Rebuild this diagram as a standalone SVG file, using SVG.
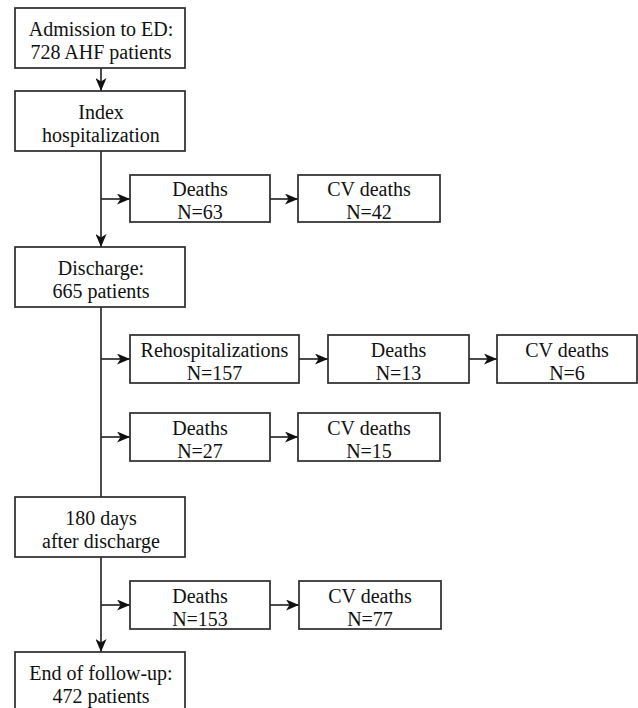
<svg xmlns="http://www.w3.org/2000/svg" width="638" height="708" viewBox="0 0 638 708">
<defs>
<style>
.box{fill:#fff;stroke:#2b2b2b;stroke-width:1.7}
.t{font-family:"Liberation Serif","Times New Roman",serif;font-size:20px;fill:#111;text-anchor:middle}
.c{fill:none;stroke:#2b2b2b;stroke-width:1.7}
</style>
<marker id="ah" viewBox="0 0 13 11" refX="13" refY="5.5" markerWidth="13" markerHeight="11" markerUnits="userSpaceOnUse" orient="auto">
<path d="M0,0 L13,5.5 L0,11 L3.5,5.5 Z" fill="#111"/>
</marker>
</defs>
<rect width="638" height="708" fill="#fff"/>
<g id="connectors">
<path class="c" d="M101,68 V91" marker-end="url(#ah)"/>
<path class="c" d="M101,151 V247" marker-end="url(#ah)"/>
<path class="c" d="M101,199 H130" marker-end="url(#ah)"/>
<path class="c" d="M270,199 H298" marker-end="url(#ah)"/>
<path class="c" d="M101,307 V497"/>
<path class="c" d="M101,359 H130" marker-end="url(#ah)"/>
<path class="c" d="M299,359 H328" marker-end="url(#ah)"/>
<path class="c" d="M469,359 H497" marker-end="url(#ah)"/>
<path class="c" d="M101,437 H130" marker-end="url(#ah)"/>
<path class="c" d="M270,437 H298" marker-end="url(#ah)"/>
<path class="c" d="M101,557 V652" marker-end="url(#ah)"/>
<path class="c" d="M101,605 H130" marker-end="url(#ah)"/>
<path class="c" d="M270,605 H299" marker-end="url(#ah)"/>
</g>
<g id="admission"><rect class="box" x="15" y="8" width="170" height="60"/><text class="t" x="101" y="36">Admission to ED:</text><text class="t" x="101" y="59">728 AHF patients</text></g>
<g id="index"><rect class="box" x="15" y="91" width="170" height="60"/><text class="t" x="101" y="119">Index</text><text class="t" x="101" y="142">hospitalization</text></g>
<g id="deaths1"><rect class="box" x="130" y="175" width="140" height="47"/><text class="t" x="200" y="196">Deaths</text><text class="t" x="200" y="219">N=63</text></g>
<g id="cv1"><rect class="box" x="298" y="175" width="142" height="47"/><text class="t" x="369" y="196">CV deaths</text><text class="t" x="369" y="219">N=42</text></g>
<g id="discharge"><rect class="box" x="15" y="247" width="170" height="60"/><text class="t" x="101" y="275">Discharge:</text><text class="t" x="101" y="298">665 patients</text></g>
<g id="rehosp"><rect class="box" x="130" y="335" width="169" height="48"/><text class="t" x="214.5" y="357">Rehospitalizations</text><text class="t" x="214.5" y="380">N=157</text></g>
<g id="deaths2"><rect class="box" x="328" y="335" width="141" height="48"/><text class="t" x="398.5" y="357">Deaths</text><text class="t" x="398.5" y="380">N=13</text></g>
<g id="cv2"><rect class="box" x="497" y="335" width="140" height="48"/><text class="t" x="567" y="357">CV deaths</text><text class="t" x="567" y="380">N=6</text></g>
<g id="deaths3"><rect class="box" x="130" y="413" width="140" height="48"/><text class="t" x="200" y="435">Deaths</text><text class="t" x="200" y="458">N=27</text></g>
<g id="cv3"><rect class="box" x="298" y="413" width="142" height="48"/><text class="t" x="369" y="435">CV deaths</text><text class="t" x="369" y="458">N=15</text></g>
<g id="days180"><rect class="box" x="15" y="497" width="170" height="60"/><text class="t" x="101" y="525">180 days</text><text class="t" x="101" y="548">after discharge</text></g>
<g id="deaths4"><rect class="box" x="130" y="581" width="140" height="48"/><text class="t" x="200" y="603">Deaths</text><text class="t" x="200" y="626">N=153</text></g>
<g id="cv4"><rect class="box" x="299" y="581" width="142" height="48"/><text class="t" x="370" y="603">CV deaths</text><text class="t" x="370" y="626">N=77</text></g>
<g id="end"><rect class="box" x="15" y="652" width="170" height="62"/><text class="t" x="101" y="680">End of follow-up:</text><text class="t" x="101" y="703">472 patients</text></g>
</svg>
